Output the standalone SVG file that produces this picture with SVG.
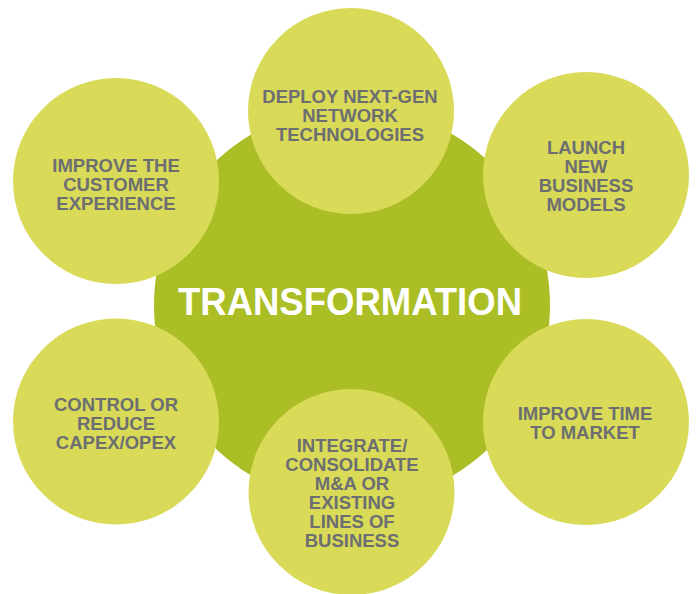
<svg xmlns="http://www.w3.org/2000/svg" width="696" height="594" viewBox="0 0 696 594">
  <style>
    .hub { fill: #abbe26; }
    .spoke { fill: #d8da58; }
    .label { font-family: "Liberation Sans", Arial, sans-serif; font-weight: bold; font-size: 18.5px; fill: #6d6e71; text-anchor: middle; }
    .title { font-family: "Liberation Sans", Arial, sans-serif; font-weight: bold; font-size: 39px; fill: #ffffff; text-anchor: middle; }
  </style>
  <rect width="696" height="594" fill="#ffffff"/>

  <g id="hub">
    <circle class="hub" cx="352" cy="305" r="198"/>
  </g>

  <g id="connectors"></g>

  <g id="node-customer">
    <circle class="spoke" cx="116" cy="181" r="103"/>
    <text class="label" x="116" y="172">IMPROVE THE</text>
    <text class="label" x="116" y="191">CUSTOMER</text>
    <text class="label" x="116" y="210">EXPERIENCE</text>
  </g>

  <g id="node-network">
    <circle class="spoke" cx="351" cy="111" r="103"/>
    <text class="label" x="350" y="103">DEPLOY NEXT-GEN</text>
    <text class="label" x="350" y="122">NETWORK</text>
    <text class="label" x="350" y="141">TECHNOLOGIES</text>
  </g>

  <g id="node-business-models">
    <circle class="spoke" cx="586" cy="175" r="103"/>
    <text class="label" x="586" y="153.5">LAUNCH</text>
    <text class="label" x="586" y="172.5">NEW</text>
    <text class="label" x="586" y="191.5">BUSINESS</text>
    <text class="label" x="586" y="210.5">MODELS</text>
  </g>

  <g id="node-capex">
    <circle class="spoke" cx="116" cy="421.5" r="103"/>
    <text class="label" x="116" y="411">CONTROL OR</text>
    <text class="label" x="116" y="430">REDUCE</text>
    <text class="label" x="116" y="449">CAPEX/OPEX</text>
  </g>

  <g id="node-time-to-market">
    <circle class="spoke" cx="586" cy="422" r="103"/>
    <text class="label" x="585" y="420">IMPROVE TIME</text>
    <text class="label" x="585" y="439">TO MARKET</text>
  </g>

  <g id="node-integrate">
    <circle class="spoke" cx="351.5" cy="492" r="103"/>
    <text class="label" x="352" y="452">INTEGRATE/</text>
    <text class="label" x="352" y="471">CONSOLIDATE</text>
    <text class="label" x="352" y="490">M&amp;A OR</text>
    <text class="label" x="352" y="509">EXISTING</text>
    <text class="label" x="352" y="528">LINES OF</text>
    <text class="label" x="352" y="547">BUSINESS</text>
  </g>

  <g id="title">
    <text class="title" x="350" y="315" textLength="344" lengthAdjust="spacingAndGlyphs">TRANSFORMATION</text>
  </g>
</svg>
